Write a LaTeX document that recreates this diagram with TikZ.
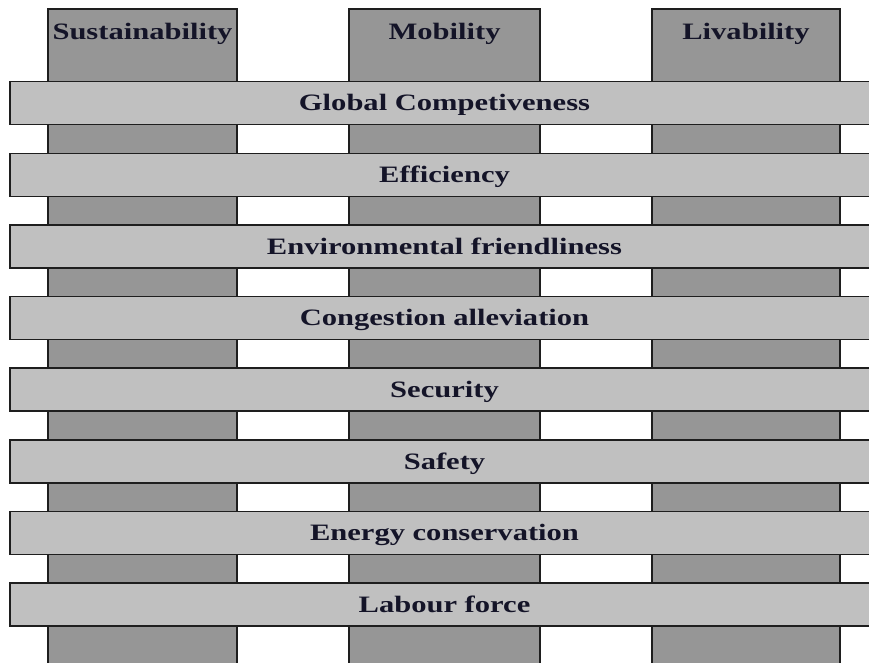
\documentclass[tikz,border=0pt]{standalone}
\usepackage{fontspec}
\newfontfamily\labfont{Liberation Serif Bold}[FakeStretch=1.3]
\definecolor{colfill}{RGB}{150,150,150}
\definecolor{barfill}{RGB}{192,192,192}
\definecolor{edge}{RGB}{30,30,30}
\definecolor{txt}{RGB}{20,20,40}
\begin{document}
\begin{tikzpicture}[x=1pt,y=-1pt,
  colbox/.style={draw=edge,fill=colfill,line width=1.5pt},
  barbox/.style={draw=edge,fill=barfill,line width=1.5pt,minimum width=870pt,minimum height=43pt,inner sep=0pt,anchor=north},
  labtxt/.style={text=txt,font=\labfont\fontsize{23.5}{28}\selectfont,inner sep=0pt,anchor=base}]
\useasboundingbox (0,0) rectangle (869,663);
\clip (0,0) rectangle (869,663);
% columns
\path[colbox] (48,9) rectangle (237,680);
\path[colbox] (349,9) rectangle (540,680);
\path[colbox] (652,9) rectangle (840,680);
\node[labtxt] (sus) at (142.5,39.5) {Sustainability};
\node[labtxt] (mob) at (444.5,39.5) {Mobility};
\node[labtxt] (liv) at (746,39.5) {Livability};
% bars
\foreach \t [count=\i from 0] in {Global Competiveness,Efficiency,Environmental friendliness,Congestion alleviation,Security,Safety,Energy conservation,Labour force}{
  \pgfmathsetmacro{\yy}{81+71.6*\i}
  \node[barbox] (bar\i) at (445,\yy) {};
  \node[labtxt] (lab\i) at (444.5,\yy+30) {\t};
}
\end{tikzpicture}
\end{document}
